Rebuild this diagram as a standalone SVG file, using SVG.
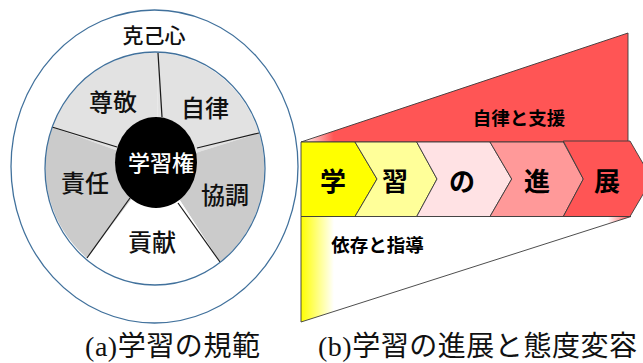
<svg xmlns="http://www.w3.org/2000/svg" width="643" height="363" viewBox="0 0 643 363">
<style>
.blue{fill:none;stroke:#41719c;stroke-width:1.3}
.div{stroke:#1a1a1a;stroke-width:1.2}
.pt{font-family:"Noto Sans CJK JP","Noto Sans CJK SC",sans-serif;font-weight:500;font-size:24px;fill:#111;text-anchor:middle}
.ol{stroke:#3a3a3a;stroke-width:0.9}
.ct{font-family:"Noto Sans CJK JP","Noto Sans CJK SC",sans-serif;font-weight:700;font-size:26px;fill:#000;text-anchor:middle}
.lt{font-family:"Noto Sans CJK JP","Noto Sans CJK SC",sans-serif;font-weight:700;font-size:18.5px;fill:#000;text-anchor:middle}
.cap{font-family:"Liberation Serif","Noto Sans CJK JP",serif;font-size:28px;fill:#111}
</style>
<defs>
<linearGradient id="gUp" gradientUnits="userSpaceOnUse" x1="301" y1="0" x2="628" y2="0">
<stop offset="0" stop-color="#ffffff"/>
<stop offset="0.1" stop-color="#ff5555"/>
<stop offset="1" stop-color="#ff5555"/>
</linearGradient>
<linearGradient id="gLow" gradientUnits="userSpaceOnUse" x1="301" y1="0" x2="631" y2="0">
<stop offset="0" stop-color="#ffff00"/>
<stop offset="0.1" stop-color="#ffffff"/>
<stop offset="0.93" stop-color="#ffffff"/>
<stop offset="1" stop-color="#ff4444"/>
</linearGradient>
</defs>

<g id="left">
<g id="outer-ring">
<ellipse cx="154.5" cy="166.5" rx="143.5" ry="156.5" class="blue"/>
<text x="154" y="43" class="pt" style="font-size:21px">克己心</text>
</g>
<g id="slice-sonkei">
<path d="M157,165 L52,127 A110,116.5 0 0 1 158,53 Z" fill="#e2e2e2"/>
<text x="113" y="111" class="pt">尊敬</text>
</g>
<g id="slice-jiritsu">
<path d="M157,165 L158,53 A110,116.5 0 0 1 259,133 Z" fill="#e2e2e2"/>
<text x="205" y="117" class="pt">自律</text>
</g>
<g id="slice-kyocho">
<path d="M157,165 L259,133 A110,116.5 0 0 1 220,262 Z" fill="#cbcbcb"/>
<text x="225" y="204" class="pt">協調</text>
</g>
<g id="slice-koken">
<path d="M157,165 L220,262 A110,116.5 0 0 1 87,258 Z" fill="#ffffff"/>
<text x="152" y="251" class="pt">貢献</text>
</g>
<g id="slice-sekinin">
<path d="M157,165 L87,258 A110,116.5 0 0 1 52,127 Z" fill="#cbcbcb"/>
<text x="85" y="192" class="pt">責任</text>
</g>
<g id="dividers">
<line x1="162" y1="117" x2="158" y2="53" class="div"/>
<line x1="197" y1="148" x2="259" y2="133" class="div"/>
<line x1="178" y1="203" x2="220" y2="262" class="div"/>
<line x1="130" y1="198" x2="87" y2="258" class="div"/>
<line x1="117" y1="147" x2="52" y2="127" class="div"/>
</g>
<ellipse cx="155" cy="168.5" rx="110" ry="116.5" class="blue"/>
<g id="center">
<ellipse cx="156" cy="162.5" rx="41" ry="45.5" fill="#000"/>
<text x="161" y="171" class="pt" style="font-size:22px;fill:#fff">学習権</text>
</g>
</g>

<g id="right">
<g id="lower-wedge">
<polygon points="301,216.5 631,216.5 301,322" fill="url(#gLow)" class="ol"/>
<text x="377.5" y="252" class="lt">依存と指導</text>
</g>
<g id="upper-wedge">
<polygon points="301,142 628,33 628,142" fill="url(#gUp)" class="ol"/>
<text x="519" y="125" class="lt">自律と支援</text>
</g>
<g id="chev1">
<polygon points="301,142 355,142 377,179 355,216.5 301,216.5" fill="#ffff00" class="ol"/>
<text x="333" y="191" class="ct">学</text>
</g>
<g id="chev2">
<polygon points="355,142 416.7,142 437,179 416.7,216.5 355,216.5 377,179" fill="#ffff99" class="ol"/>
<text x="395" y="191" class="ct">習</text>
</g>
<g id="chev3">
<polygon points="416.7,142 490,142 511.7,179 490,216.5 416.7,216.5 437,179" fill="#ffe2e4" class="ol"/>
<text x="462" y="191" class="ct">の</text>
</g>
<g id="chev4">
<polygon points="490,142 563.3,142 583.3,179 563.3,216.5 490,216.5 511.7,179" fill="#ff9999" class="ol"/>
<text x="537" y="191" class="ct">進</text>
</g>
<g id="chev5">
<polygon points="563.3,141 630,141 652,179 630,216.5 563.3,216.5 583.3,179" fill="#ff5555" class="ol"/>
<text x="607" y="191" class="ct">展</text>
</g>
</g>

<g id="captions">
<text x="85" y="356" class="cap" textLength="175" lengthAdjust="spacing">(a)学習の規範</text>
<text x="318" y="356" class="cap" textLength="319" lengthAdjust="spacing">(b)学習の進展と態度変容</text>
</g>
</svg>
